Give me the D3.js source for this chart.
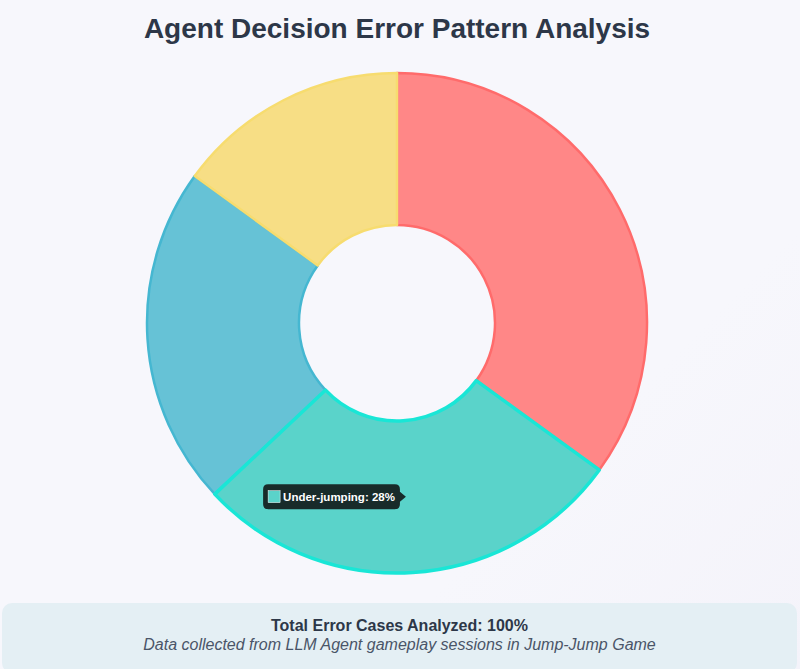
<!DOCTYPE html>
<html>
<head>
<meta charset="utf-8">
<script src="https://cdn.jsdelivr.net/npm/d3@7/dist/d3.min.js"></script>
<style>
  html, body { margin: 0; padding: 0; }
  body { width: 800px; height: 669px; background: linear-gradient(135deg, #f7f7fc 0%, #f7f7fc 70%, #f4f3fa 100%); font-family: "Liberation Sans", Arial, sans-serif; overflow: hidden; }
  #chart { position: absolute; left: 0; top: 0; }
  .footer { position: absolute; left: 2px; top: 603px; width: 795px; height: 70px; background: #e4eff4; border-radius: 10px; text-align: center; }
  .footer .t1 { margin-top: 14px; font-weight: bold; font-size: 16px; line-height: 18px; color: #2d3748; }
  .footer .t2 { margin-top: 1px; font-style: italic; font-size: 16px; line-height: 18px; color: #4a5568; }
</style>
</head>
<body>
<div id="chart"></div>
<div class="footer">
  <div class="t1">Total Error Cases Analyzed: 100%</div>
  <div class="t2">Data collected from LLM Agent gameplay sessions in Jump-Jump Game</div>
</div>
<script>
var categories = ['Over-jumping', 'Under-jumping', 'Direction Misjudgment', 'Timing Errors'];
var values = [35, 28, 22, 15];
var fills = ['#ff8787', '#5ad3ca', '#66c2d6', '#f7de85'];
var strokes = ['#ff6b6b', '#4ecdc4', '#45b7d1', '#f7dc6f'];
var hovered = 1;

var width = 800, height = 600;
var cx = 397, cy = 323, outerR = 250, innerR = 98;

var svg = d3.select('#chart').append('svg').attr('width', width).attr('height', height);

svg.append('text').attr('x', 397).attr('y', 38).attr('text-anchor', 'middle')
    .attr('font-size', 28).attr('font-weight', 'bold').attr('fill', '#2d3748')
    .text('Agent Decision Error Pattern Analysis');

var pie = d3.pie().sort(null).value(function(d){ return d; });
var arc = d3.arc().innerRadius(innerR).outerRadius(outerR);
var arcs = pie(values);

var g = svg.append('g').attr('transform', 'translate(' + cx + ',' + cy + ')');

// non-hovered first, hovered last so its border sits on top
var order = d3.range(values.length).filter(function(i){ return i != hovered; }).concat([hovered]);
g.selectAll('path').data(order).enter().append('path')
    .attr('d', function(i){ return arc(arcs[i]); })
    .attr('fill', function(i){ return fills[i]; })
    .attr('stroke', function(i){ return i == hovered ? '#19e6d6' : strokes[i]; })
    .attr('stroke-width', function(i){ return i == hovered ? 3.5 : 2.5; })
    .attr('stroke-linejoin', 'round');

// tooltip
var c = arc.centroid(arcs[hovered]);
var label = categories[hovered] + ': ' + values[hovered] + '%';
var tip = g.append('g').attr('transform', 'translate(' + (c[0] - 2) + ',' + c[1] + ')');
var txt = tip.append('text').attr('font-size', 11.5).attr('font-weight', 'bold').attr('fill', '#fff')
    .attr('dominant-baseline', 'central').text(label);
var tw = txt.node().getComputedTextLength();
var boxW = tw + 25, boxH = 25;
tip.insert('path', 'text')
    .attr('d', 'M' + (-boxW - 6) + ',' + (-boxH / 2 + 5) +
        'q0,-5 5,-5 h' + (boxW - 10) + ' q5,0 5,5 v' + (boxH / 2 - 10) +
        ' l6,5 l-6,5 v' + (boxH / 2 - 10) + ' q0,5 -5,5 h' + (-(boxW - 10)) + ' q-5,0 -5,-5 z')
    .attr('fill', '#182b2a');
txt.attr('x', -boxW + 14).attr('y', 0);
tip.insert('rect', 'text').attr('x', -boxW - 1).attr('y', -6).attr('width', 12).attr('height', 12)
    .attr('fill', fills[hovered]).attr('stroke', '#fff').attr('stroke-width', 0.5);
</script>
</body>
</html>
